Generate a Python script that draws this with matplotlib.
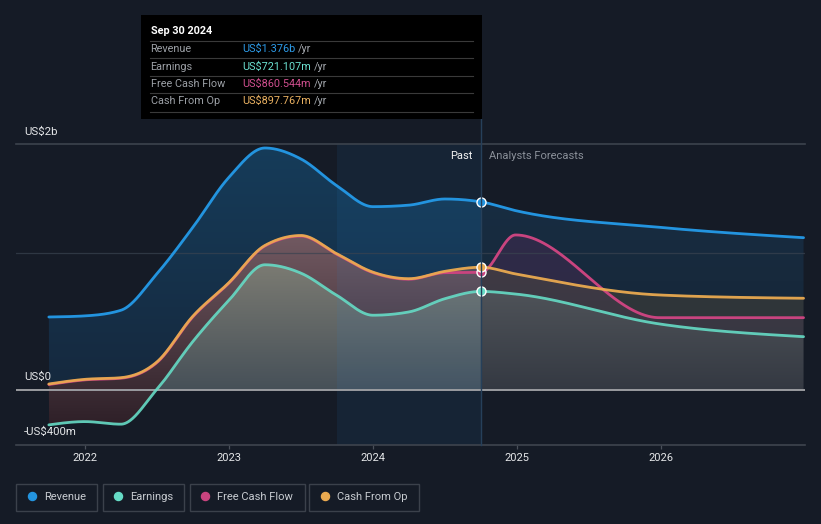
import numpy as np
import matplotlib
matplotlib.use("Agg")
import matplotlib.pyplot as plt
from matplotlib.path import Path
from matplotlib.patches import Rectangle
from matplotlib.lines import Line2D

plt.rcParams['font.family'] = ['Roboto', 'DejaVu Sans']

# ---------------- data (US$ billions) ----------------
dates = [2021.75, 2022.0, 2022.25, 2022.5, 2022.75, 2023.0, 2023.25, 2023.5,
         2023.75, 2024.0, 2024.25, 2024.5, 2024.75, 2024.99, 2025.99, 2026.99]
revenue = [0.534, 0.542, 0.583, 0.85, 1.19, 1.555, 1.77, 1.69,
           1.494, 1.341, 1.352, 1.397, 1.376, 1.312, 1.190, 1.114]
earnings = [-0.255, -0.231, -0.25, 0.005, 0.355, 0.656, 0.916, 0.855,
            0.692, 0.547, 0.571, 0.668, 0.721, 0.702, 0.483, 0.390]
free_cash_flow = [0.040, 0.074, 0.086, 0.200, 0.535, 0.781, 1.053, 1.126,
                  0.992, 0.858, 0.810, 0.858, 0.8605, 1.134, 0.529, 0.529]
cash_from_op = [0.044, 0.078, 0.090, 0.205, 0.540, 0.785, 1.057, 1.130,
                0.996, 0.862, 0.814, 0.868, 0.898, 0.849, 0.695, 0.671]

year_ticks = [2022, 2023, 2024, 2025, 2026]
year_labels = ["2022", "2023", "2024", "2025", "2026"]
past_end = 2024.75
band_start = 2023.75

series_names = ["Revenue", "Earnings", "Free Cash Flow", "Cash From Op"]
tooltip_date = "Sep 30 2024"
tooltip_values = ["US$1.376b", "US$721.107m", "US$860.544m", "US$897.767m"]

# ---------------- style ----------------
BG = "#151b26"
C_REV = "#2394df"
C_EARN = "#66dcc6"
C_FCF = "#c9447f"
C_CFO = "#eaaa50"

W, H = 821, 524
X0, X1 = 2021.522, 2027.0
Y0, Y1 = -0.4, 1.797


def fx(px):
    return px / W


def fy(py):
    return 1 - py / H


def monotone(xs, ys, n=3000):
    xs = np.asarray(xs, float)
    ys = np.asarray(ys, float)
    h = np.diff(xs)
    s = np.diff(ys) / h
    m = len(xs)
    t = np.zeros(m)
    sg = lambda v: -1.0 if v < 0 else 1.0
    for i in range(1, m - 1):
        p = (s[i - 1] * h[i] + s[i] * h[i - 1]) / (h[i - 1] + h[i])
        t[i] = (sg(s[i - 1]) + sg(s[i])) * min(abs(s[i - 1]), abs(s[i]), 0.5 * abs(p))
    t[0] = (3 * s[0] - t[1]) / 2
    t[-1] = (3 * s[-1] - t[-2]) / 2
    xx = np.linspace(xs[0], xs[-1], n)
    idx = np.clip(np.searchsorted(xs, xx, side="right") - 1, 0, m - 2)
    hh = h[idx]
    u = (xx - xs[idx]) / hh
    h00 = 2 * u**3 - 3 * u**2 + 1
    h10 = u**3 - 2 * u**2 + u
    h01 = -2 * u**3 + 3 * u**2
    h11 = u**3 - u**2
    yy = h00 * ys[idx] + h10 * hh * t[idx] + h01 * ys[idx + 1] + h11 * hh * t[idx + 1]
    return xx, yy


xx, rev_s = monotone(dates, revenue)
_, earn_s = monotone(dates, earnings)
_, fcf_s = monotone(dates, free_cash_flow)
_, cfo_s = monotone(dates, cash_from_op)

fig = plt.figure(figsize=(W / 100, H / 100), dpi=100, facecolor=BG)
ax = fig.add_axes([fx(16), fy(444.7), fx(805) - fx(16), (444.7 - 144.3) / H])
ax.set_facecolor(BG)

# gradient fills -----------------------------------------------------------
gy = np.linspace(Y0, Y1, 400)
gx = np.linspace(X0, X1, 1400)


def stops_color(stops):
    ysx = [s[0] for s in stops]
    out = np.zeros((len(gy), 3))
    for c in range(3):
        out[:, c] = np.interp(gy, ysx, [s[1][c] for s in stops])
    return out / 255.0


def region(upper, lower, past_stops, fc_stops, z=1):
    pc = stops_color(past_stops)
    fcol = stops_color(fc_stops)
    img = np.zeros((len(gy), len(gx), 4))
    pm = gx <= past_end
    img[:, pm, :3] = pc[:, None, :]
    img[:, ~pm, :3] = fcol[:, None, :]
    img[..., 3] = 1.0
    verts = np.concatenate([np.column_stack([xx, upper]),
                            np.column_stack([xx[::-1], lower[::-1]])])
    path = Path(verts, closed=True)
    im = ax.imshow(img, extent=(X0, X1, Y0, Y1), origin="lower", aspect="auto",
                   interpolation="bilinear", zorder=z)
    im.set_clip_path(path, transform=ax.transData)


top_cash = np.maximum(cfo_s, fcf_s)
low_cash = np.minimum(cfo_s, fcf_s)

# revenue area
region(rev_s, top_cash,
       [(-0.4, (21, 36, 55)), (1.8, (22, 60, 90))],
       [(-0.4, (21, 33, 48)), (1.4, (24, 45, 66))])
# FCF above CFO (purple)
region(top_cash, cfo_s,
       [(-0.4, (60, 40, 70)), (1.8, (80, 60, 90))],
       [(-0.4, (42, 38, 64)), (1.4, (48, 44, 74))])
# CFO above FCF (grey-green)
region(cfo_s, low_cash,
       [(-0.4, (60, 50, 55)), (1.8, (110, 90, 95))],
       [(-0.4, (45, 51, 54)), (1.4, (50, 56, 60))])
# cash down to earnings (reddish)
region(low_cash, earn_s,
       [(-0.3, (44, 30, 38)), (1.1, (112, 88, 96))],
       [(0.4, (56, 55, 66)), (0.9, (64, 58, 68))])
# earnings down to zero (grey)
region(np.maximum(earn_s, 0), np.zeros_like(earn_s),
       [(0.0, (70, 80, 88)), (0.9, (122, 122, 114))],
       [(0.0, (52, 57, 66)), (0.7, (78, 82, 88))])

# highlighted band
ax.axvspan(band_start, past_end, color="#2a86d6", alpha=0.09, lw=0, zorder=2)

# grid lines
ax.axhline(1.0, color="#3a4350", lw=0.9, alpha=0.7, zorder=2.5)
ax.axhline(Y1, color="#3c434d", lw=1.2, zorder=2.5, clip_on=False)
ax.axhline(0.0, color="#9a9ca0", lw=1.4, zorder=3)
ax.axhline(Y0, color="#3e444e", lw=1.2, zorder=2.5, clip_on=False)

# lines
for ys_, col, a in [(rev_s, C_REV, 1.0), (earn_s, C_EARN, 0.9), (fcf_s, C_FCF, 1.0), (cfo_s, C_CFO, 0.95)]:
    ax.plot(xx, ys_, color=col, lw=2.0, alpha=a, zorder=4, solid_capstyle="round")

# markers at Sep 30 2024
i_last = dates.index(past_end)
for vals, col in [(revenue, C_REV), (free_cash_flow, C_FCF), (cash_from_op, C_CFO), (earnings, C_EARN)]:
    ax.plot([dates[i_last]], [vals[i_last]], "o", ms=6.5, mfc=col, mec="white", mew=1.0, zorder=6)

ax.set_xlim(X0, X1)
ax.set_ylim(Y0, Y1)
for sp in ax.spines.values():
    sp.set_visible(False)
ax.set_yticks([])
ax.set_xticks(year_ticks)
ax.set_xticklabels(year_labels)
ax.tick_params(axis="x", length=3, width=0.9, color="#4a505a", labelcolor="#e4e6e8",
               labelsize=8, pad=3)

# y labels
ax_txt = dict(color="#e4e6e8", fontsize=8.2, va="center", ha="left", transform=fig.transFigure)
fig.text(fx(24), fy(132.3), "US$2b", **ax_txt)
fig.text(fx(24), fy(376.7), "US$0", **ax_txt)
fig.text(fx(24), fy(432.3), "-US$400m", **ax_txt)

# Past / forecast labels
fig.text(fx(472.5), fy(156), "Past", color="#f2f2f2", fontsize=8, ha="right", va="center")
fig.text(fx(489), fy(156), "Analysts Forecasts", color="#8a9099", fontsize=8, ha="left", va="center")

# divider line
fig.add_artist(Line2D([fx(481), fx(481)], [fy(119), fy(444.7)], color="#26405a", lw=1.0,
                      transform=fig.transFigure, zorder=5))

# tooltip
fig.add_artist(Rectangle((fx(141), fy(119)), fx(482) - fx(141), (119 - 15) / H,
                         transform=fig.transFigure, facecolor="black", edgecolor="none", zorder=10))
fig.text(fx(150.5), fy(30.7), tooltip_date, color="white", fontsize=7.8, fontweight="bold",
         ha="left", va="center", zorder=11)
for yy_ in [41.3, 58.3, 76, 93.3, 111.7]:
    fig.add_artist(Line2D([fx(150), fx(473)], [fy(yy_), fy(yy_)], color="#3a3a3a", lw=0.8,
                          transform=fig.transFigure, zorder=11))
row_y = [49.3, 66.7, 84.3, 101.3]
val_cols = ["#2d9be8", "#6be0d0", "#d04f8f", "#ebb262"]
renderer = fig.canvas.get_renderer()
for name, val, col, ry in zip(series_names, tooltip_values, val_cols, row_y):
    fig.text(fx(150.5), fy(ry), name, color="#9ca0a6", fontsize=7.8, ha="left", va="center", zorder=11)
    t = fig.text(fx(242), fy(ry), val, color=col, fontsize=7.8, ha="left", va="center", zorder=11)
    bb = t.get_window_extent(renderer=renderer)
    fig.text(fx(bb.x1 + 3), fy(ry), "/yr", color="#a4a8ae", fontsize=7.8, ha="left", va="center", zorder=11)

# legend
boxes = [(16.2, 97.4), (102.6, 184.3), (189.5, 304.7), (309.4, 419.4)]
dot_x = [32, 118.3, 204.7, 324.6]
text_x = [44, 129.8, 216.8, 337.2]
leg_cols = [C_REV, C_EARN, C_FCF, C_CFO]
for (bx0, bx1), dx, tx, name, col in zip(boxes, dot_x, text_x, series_names, leg_cols):
    fig.add_artist(Rectangle((fx(bx0), fy(511.3)), fx(bx1) - fx(bx0), (511.3 - 484) / H,
                             transform=fig.transFigure, facecolor="none", edgecolor="#3b414b", lw=1.0))
    fig.add_artist(Line2D([fx(dx)], [fy(496)], marker="o", ms=5.8, mfc=col, mec=col,
                          transform=fig.transFigure))
    fig.text(fx(tx), fy(496.5), name, color="#c8ccd1", fontsize=8, ha="left", va="center")

fig.savefig("out.png", dpi=100, facecolor=BG)
